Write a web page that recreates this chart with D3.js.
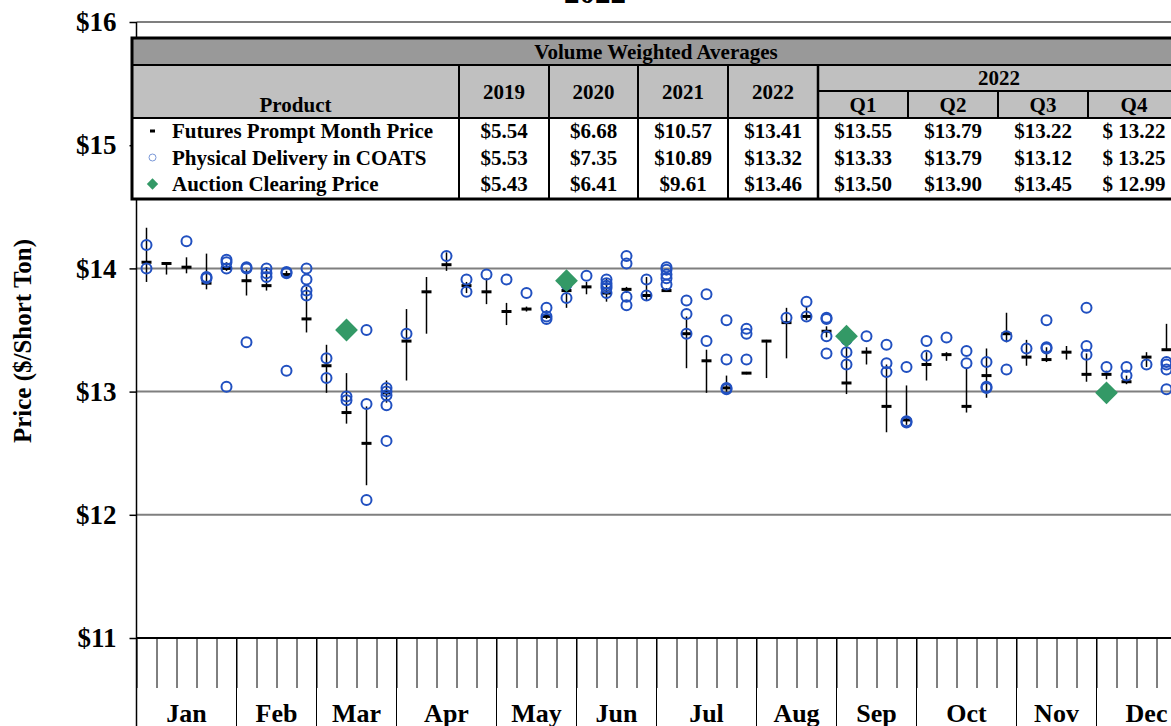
<!DOCTYPE html>
<html>
<head>
<meta charset="utf-8">
<script src="https://cdn.jsdelivr.net/npm/d3@7"></script>
<style>
  body { margin: 0; background: #fff; }
  #chart { width: 1171px; height: 726px; overflow: hidden; }
  text { font-family: "Liberation Serif", "Times New Roman", serif; font-weight: bold; fill: #000; }
</style>
</head>
<body>
<div id="chart"></div>
<script>
// weekly values for 2022, one entry per week (index 0 = first week of Jan)
const futuresAvg = [14.05, 14.04, 14.01, 13.88, 14.00, 13.90, 13.86, 13.95, 13.59, 13.21,
    12.83, 12.58, 12.99, 13.41, 13.81, 14.03, 13.86, 13.81, 13.65, 13.67,
    13.61, 13.82, 13.85, 13.80, 13.83, 13.78, 13.82, 13.47, 13.25, 13.03,
    13.15, 13.41, 13.56, 13.61, 13.49, 13.07, 13.32, 12.88, 12.77, 13.22,
    13.30, 12.88, 13.13, 13.47, 13.28, 13.26, 13.32, 13.14, 13.14, 13.08,
    13.28, 13.34];
const futuresHigh = [14.33, 14.05, 14.09, 14.12, 14.05, 13.99, 14.01, 13.98, 13.85, 13.38,
    13.15, 12.88, 13.09, 13.67, 13.93, 14.13, 13.89, 13.92, 13.72, 13.69,
    13.66, 13.88, 13.89, 13.92, 13.85, 13.93, 13.84, 13.61, 13.34, 13.13,
    13.16, 13.42, 13.68, 13.69, 13.53, 13.45, 13.36, 13.22, 13.05, 13.32,
    13.32, 13.19, 13.35, 13.64, 13.42, 13.36, 13.37, 13.31, 13.17, 13.13,
    13.32, 13.55];
const futuresLow = [13.89, 13.95, 13.96, 13.83, 13.98, 13.78, 13.82, 13.94, 13.48, 12.99,
    12.74, 12.24, 12.91, 13.09, 13.47, 13.98, 13.80, 13.71, 13.54, 13.65,
    13.59, 13.68, 13.79, 13.73, 13.80, 13.74, 13.81, 13.19, 12.99, 13.00,
    13.14, 13.11, 13.27, 13.58, 13.44, 12.98, 13.22, 12.67, 12.73, 13.09,
    13.25, 12.83, 12.95, 13.40, 13.21, 13.24, 13.26, 13.08, 13.10, 13.06,
    13.20, 13.34];
const physical = [
    [14.19, 14.00], [], [14.22], [13.93, 13.92], [14.07, 14.05, 14.00, 13.04],
    [14.01, 14.00, 13.40], [14.00, 13.96, 13.93], [13.97, 13.96, 13.17], [14.00, 13.91, 13.82, 13.78], [13.27, 13.11],
    [12.96, 12.93], [13.50, 12.90, 12.12], [13.03, 13.00, 12.97, 12.89, 12.60], [13.47], [],
    [14.10], [13.91, 13.81], [13.95], [13.91], [13.80],
    [13.68, 13.61, 13.59], [13.87, 13.76], [13.94], [13.91, 13.88, 13.86, 13.84, 13.80], [14.10, 14.04, 13.77, 13.70],
    [13.91, 13.78], [14.01, 13.99, 13.95, 13.92, 13.87], [13.74, 13.63, 13.47], [13.79, 13.41], [13.58, 13.26, 13.03, 13.02],
    [13.51, 13.47, 13.26], [], [13.60], [13.73, 13.61], [13.60, 13.59, 13.45, 13.31],
    [13.42, 13.32, 13.22], [13.45], [13.38, 13.23, 13.16], [13.20, 12.76, 12.75], [13.41, 13.29],
    [13.44], [13.33, 13.23], [13.24, 13.04, 13.03], [13.45, 13.18], [13.35],
    [13.58, 13.36, 13.35], [], [13.68, 13.37, 13.30], [13.20], [13.20, 13.13],
    [13.22], [13.24, 13.22, 13.18, 13.02]
];
const auctionWeeks = [10, 21, 35, 48];
const auctionPrices = [13.50, 13.90, 13.45, 12.99];

const months = ["Jan", "Feb", "Mar", "Apr", "May", "Jun", "Jul", "Aug", "Sep", "Oct", "Nov", "Dec"];
const monthWeeks = [5, 4, 4, 5, 4, 4, 5, 4, 4, 5, 4, 5];
const yTicks = [11, 12, 13, 14, 15, 16];

// volume weighted averages table
const products = ["Futures Prompt Month Price", "Physical Delivery in COATS", "Auction Clearing Price"];
const yearCols = ["2019", "2020", "2021", "2022"];
const quarterCols = ["Q1", "Q2", "Q3", "Q4"];
const yearValues = [
    ["$5.54", "$6.68", "$10.57", "$13.41"],
    ["$5.53", "$7.35", "$10.89", "$13.32"],
    ["$5.43", "$6.41", "$9.61", "$13.46"]
];
const quarterValues = [
    ["$13.55", "$13.79", "$13.22", "$ 13.22"],
    ["$13.33", "$13.79", "$13.12", "$ 13.25"],
    ["$13.50", "$13.90", "$13.45", "$ 12.99"]
];

const W = 1171, H = 726;
const left = 136.5, weekW = 20;
const totalWeeks = d3.sum(monthWeeks);

const svg = d3.select("#chart")
    .append("svg")
    .attr("width", W)
    .attr("height", H);

const x = d3.scaleLinear()
    .domain([0, totalWeeks])
    .range([left, left + totalWeeks * weekW]);

const y = d3.scaleLinear()
    .domain([11, 16])
    .range([638, 22]);

const blue = "#2150c0", green = "#339966";

// gridlines
svg.append("g")
    .selectAll("line")
    .data(yTicks.filter(d => d > 11))
    .join("line")
    .attr("x1", x(0))
    .attr("x2", x(totalWeeks))
    .attr("y1", d => y(d))
    .attr("y2", d => y(d))
    .attr("stroke", "#7f7f7f")
    .attr("stroke-width", 2);

// title (cropped at top, as in the original)
svg.append("text")
    .attr("x", 595)
    .attr("y", 3)
    .attr("text-anchor", "middle")
    .style("font-size", "31px")
    .text("2022");

// y axis
const yAxis = svg.append("g")
    .attr("transform", `translate(${left},0)`)
    .call(d3.axisLeft(y).tickValues(yTicks).tickSize(7).tickSizeOuter(0).tickPadding(13)
        .tickFormat(d => "$" + d));
yAxis.select(".domain").remove();
yAxis.selectAll("line").attr("stroke", "#000").attr("stroke-width", 1.5);
yAxis.selectAll("text")
    .style("font-size", "27px")
    .style("font-family", "'Liberation Serif', serif")
    .style("font-weight", "bold");
svg.append("line")
    .attr("x1", left).attr("x2", left)
    .attr("y1", y(16)).attr("y2", H)
    .attr("stroke", "#000").attr("stroke-width", 1.5);

svg.append("text")
    .attr("transform", `translate(31,${(y(16) + y(11)) / 2 + 11}) rotate(-90)`)
    .attr("text-anchor", "middle")
    .style("font-size", "25px")
    .text("Price ($/Short Ton)");

// x axis: weekly ticks + month separators
svg.append("line")
    .attr("x1", left).attr("x2", x(totalWeeks))
    .attr("y1", y(11)).attr("y2", y(11))
    .attr("stroke", "#000").attr("stroke-width", 2);

const xAxis = svg.append("g")
    .attr("transform", `translate(0,${y(11)})`)
    .call(d3.axisBottom(x).tickValues(d3.range(0, totalWeeks + 1)).tickSize(50).tickFormat(""));
xAxis.select(".domain").remove();
xAxis.selectAll("line").attr("stroke", "#000").attr("stroke-width", 1);

const monthStart = d3.cumsum([0].concat(monthWeeks));
svg.append("g")
    .selectAll("line")
    .data(monthStart)
    .join("line")
    .attr("x1", d => x(d)).attr("x2", d => x(d))
    .attr("y1", y(11)).attr("y2", H)
    .attr("stroke", "#000").attr("stroke-width", 1);

svg.append("g")
    .selectAll("text")
    .data(months)
    .join("text")
    .attr("x", (d, i) => x(monthStart[i] + monthWeeks[i] / 2))
    .attr("y", 722)
    .attr("text-anchor", "middle")
    .style("font-size", "26px")
    .text(d => d);

// futures: high-low range + average dash
const weekData = futuresAvg.map((v, i) => ({ week: i, avg: v, hi: futuresHigh[i], lo: futuresLow[i] }));
const fut = svg.append("g");
fut.selectAll("line.range")
    .data(weekData)
    .join("line")
    .attr("class", "range")
    .attr("x1", d => x(d.week + 0.5)).attr("x2", d => x(d.week + 0.5))
    .attr("y1", d => y(d.hi)).attr("y2", d => y(d.lo))
    .attr("stroke", "#000").attr("stroke-width", 1.5);
fut.selectAll("line.avg")
    .data(weekData)
    .join("line")
    .attr("class", "avg")
    .attr("x1", d => x(d.week + 0.5) - 5).attr("x2", d => x(d.week + 0.5) + 5)
    .attr("y1", d => y(d.avg)).attr("y2", d => y(d.avg))
    .attr("stroke", "#000").attr("stroke-width", 3);

// physical delivery circles
const physData = physical.flatMap((vals, i) => vals.map(v => ({ week: i, v: v })));
svg.append("g")
    .selectAll("circle")
    .data(physData)
    .join("circle")
    .attr("cx", d => x(d.week + 0.5))
    .attr("cy", d => y(d.v))
    .attr("r", 5)
    .attr("fill", "none")
    .attr("stroke", blue)
    .attr("stroke-width", 2);

// auction diamonds
const diamond = d3.symbol().type(d3.symbolSquare).size(260);
svg.append("g")
    .selectAll("path")
    .data(auctionWeeks.map((w, i) => ({ week: w, v: auctionPrices[i] })))
    .join("path")
    .attr("d", diamond)
    .attr("transform", d => `translate(${x(d.week + 0.5)},${y(d.v)}) rotate(45)`)
    .attr("fill", green);

// table
const colX = [132, 459, 549, 638, 728, 818, 908, 998, 1088, 1180];
const tTop = 38, tTitle = 65, tSub = 91, tHead = 118, tBottom = 199;
const rowY = [131, 157.5, 184];
const tbl = svg.append("g");

tbl.append("rect").attr("x", colX[0]).attr("y", tTop).attr("width", colX[9] - colX[0]).attr("height", tBottom - tTop)
    .attr("fill", "#fff");
tbl.append("rect").attr("x", colX[0]).attr("y", tTop).attr("width", colX[9] - colX[0]).attr("height", tTitle - tTop)
    .attr("fill", "#999999");
tbl.append("rect").attr("x", colX[0]).attr("y", tTitle).attr("width", colX[9] - colX[0]).attr("height", tHead - tTitle)
    .attr("fill", "#c0c0c0");

function hline(x1, x2, yy, w) {
    tbl.append("line").attr("x1", x1).attr("x2", x2).attr("y1", yy).attr("y2", yy)
        .attr("stroke", "#000").attr("stroke-width", w);
}
function vline(xx, y1, y2, w) {
    tbl.append("line").attr("x1", xx).attr("x2", xx).attr("y1", y1).attr("y2", y2)
        .attr("stroke", "#000").attr("stroke-width", w);
}
hline(colX[0], colX[9], tTitle, 2);
hline(colX[5], colX[9], tSub, 2);
hline(colX[0], colX[9], tHead, 2);
[1, 2, 3, 4].forEach(i => vline(colX[i], tTitle, tBottom, 2));
vline(colX[5], tTitle, tBottom, 2.5);
[6, 7, 8].forEach(i => vline(colX[i], tSub, tHead, 2));
tbl.append("rect").attr("x", colX[0]).attr("y", tTop).attr("width", colX[9] - colX[0]).attr("height", tBottom - tTop)
    .attr("fill", "none").attr("stroke", "#000").attr("stroke-width", 3);

function cellText(xx, yy, t, anchor) {
    tbl.append("text").attr("x", xx).attr("y", yy).attr("dy", "0.35em")
        .attr("text-anchor", anchor || "middle")
        .style("font-size", "21px").text(t);
}
cellText((colX[0] + colX[9]) / 2, 51.5, "Volume Weighted Averages");
cellText((colX[0] + colX[1]) / 2, 104.5, "Product");
yearCols.forEach((t, i) => cellText((colX[i + 1] + colX[i + 2]) / 2, 91.5, t));
cellText((colX[5] + colX[9]) / 2, 78, "2022");
quarterCols.forEach((t, i) => cellText((colX[i + 5] + colX[i + 6]) / 2, 104.5, t));

products.forEach((p, r) => {
    cellText(172, rowY[r], p, "start");
    yearValues[r].forEach((v, i) => cellText((colX[i + 1] + colX[i + 2]) / 2, rowY[r], v));
    quarterValues[r].forEach((v, i) => cellText((colX[i + 5] + colX[i + 6]) / 2, rowY[r], v));
});

// legend symbols inside the table
tbl.append("rect").attr("x", 150).attr("y", rowY[0] - 1.5).attr("width", 5).attr("height", 3).attr("fill", "#000");
tbl.append("circle").attr("cx", 152.5).attr("cy", rowY[1]).attr("r", 3.5)
    .attr("fill", "none").attr("stroke", "#7a98d8").attr("stroke-width", 1);
tbl.append("path").attr("d", d3.symbol().type(d3.symbolSquare).size(64))
    .attr("transform", `translate(152.5,${rowY[2]}) rotate(45)`).attr("fill", green);
</script>
</body>
</html>
